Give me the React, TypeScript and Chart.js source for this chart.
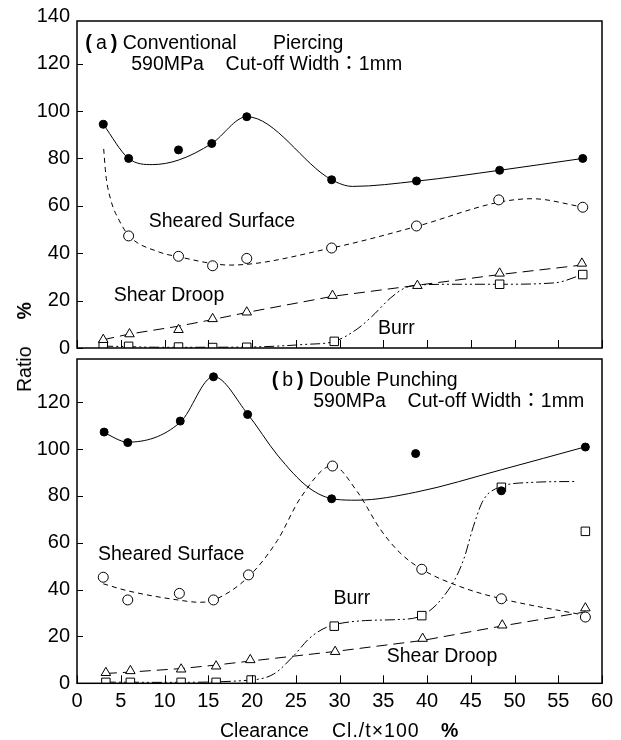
import React, { useEffect, useRef } from 'react';
import { Chart, registerables } from 'chart.js';

Chart.register(...registerables);

// ---------- axis ticks ----------
const X_TICKS = [0, 5, 10, 15, 20, 25, 30, 35, 40, 45, 50, 55, 60];
const Y_TICKS_A = [0, 20, 40, 60, 80, 100, 120, 140];
const Y_TICKS_B = [0, 20, 40, 60, 80, 100, 120];

// ---------- panel (a) Conventional Piercing ----------
const aTotalX = [3.0, 5.9, 11.6, 15.4, 19.4, 29.1, 38.8, 48.3, 57.8];
const aTotalY = [94.4, 80.0, 83.6, 86.3, 97.6, 71.0, 70.5, 75.0, 80.0];
const aTotalCurveX = [3.0, 5.9, 8.6, 11.6, 15.4, 19.4, 29.1, 31.5, 38.8, 48.3, 57.8];
const aTotalCurveY = [94.4, 80.0, 77.4, 79.3, 86.3, 97.6, 71.0, 68.2, 70.4, 75.0, 80.0];

const aShearX = [5.9, 11.6, 15.5, 19.4, 29.1, 38.8, 48.2, 57.8];
const aShearY = [47.3, 38.7, 34.7, 37.8, 42.2, 51.5, 62.5, 59.4];
const aShearCurveX = [3.05, 3.3, 3.9, 4.8, 5.9, 9.3, 11.6, 17.5, 29.1, 38.8, 48.2, 52.0, 57.8];
const aShearCurveY = [84, 73, 62, 54, 47.5, 40.6, 38.5, 35.0, 42.2, 51.3, 61.5, 63.0, 59.5];

const aDroopX = [3.0, 6.0, 11.6, 15.5, 19.4, 29.2, 38.9, 48.3, 57.7];
const aDroopY = [3.5, 5.9, 7.7, 12.3, 15.1, 22.1, 26.3, 31.5, 35.7];
const aDroopLineY = [3.5, 5.9, 9.2, 12.0, 15.0, 21.8, 26.5, 31.0, 35.0];

const aBurrX = [3.0, 5.9, 11.6, 15.5, 19.4, 29.4, 48.3, 57.8];
const aBurrY = [1.1, 0.7, 0.4, 0.2, 0.3, 2.8, 26.9, 31.0];
const aBurrCurveX = [3.0, 10, 19.4, 26, 29.4, 31.9, 33.7, 35.8, 37.4, 39.1, 43.3, 48.3, 54.6, 57.8];
const aBurrCurveY = [0.8, 0.3, 0.4, 1.5, 2.8, 7.7, 13.3, 21.0, 25.2, 26.6, 26.9, 26.9, 27.5, 31.0];

const aLabelText = [
  '(\u2009a\u2009) Conventional      \u2009Piercing',
  '590MPa    Cut-off Width：1mm',
  'Sheared Surface',
  'Shear Droop',
  'Burr',
];
const aLabelX = [0.95, 6.2, 8.2, 4.2, 34.4];
const aLabelY = [128.6, 119.7, 53.3, 21.9, 8.3];

// ---------- panel (b) Double Punching ----------
const bTotalX = [3.1, 5.8, 11.8, 15.6, 19.5, 29.1, 38.7, 48.5, 58.1];
const bTotalY = [107.3, 102.8, 112.0, 130.9, 114.8, 78.8, 98.1, 82.2, 100.9];
const bTotalCurveX = [3.1, 5.8, 11.8, 15.6, 19.5, 22.9, 26.5, 29.5, 32.0, 38.7, 48.5, 58.1];
const bTotalCurveY = [107.0, 103.0, 111.5, 131.0, 115.0, 97.5, 83.5, 78.6, 78.2, 81.6, 91.2, 101.0];

const bShearX = [3.0, 5.8, 11.7, 15.6, 19.6, 29.2, 39.4, 48.5, 58.1];
const bShearY = [45.3, 35.6, 38.4, 35.6, 46.3, 92.8, 48.7, 36.1, 28.3];
const bShearCurveX = [3.0, 5.8, 11.7, 14.0, 15.6, 19.6, 22.9, 25.6, 29.2, 32.0, 34.7, 36.9, 39.4, 44.0, 48.5, 58.1];
const bShearCurveY = [42.5, 39.5, 35.5, 34.6, 35.5, 45.5, 61.0, 79.5, 93.0, 82.0, 65.6, 55.8, 48.7, 41.0, 36.1, 29.0];

const bDroopX = [3.3, 6.1, 11.9, 15.9, 19.8, 29.5, 39.5, 48.6, 58.1];
const bDroopY = [4.5, 5.3, 6.0, 7.3, 10.0, 13.5, 19.1, 24.8, 32.1];
const bDroopLineY = [4.2, 4.8, 6.3, 7.8, 9.5, 13.6, 18.3, 24.5, 30.5];

const bBurrX = [3.3, 6.1, 11.9, 15.9, 19.9, 29.4, 39.4, 48.5, 58.1];
const bBurrY = [0.4, 0.4, 0.4, 0.4, 1.4, 24.4, 28.9, 83.7, 64.9];
const bBurrCurveX = [3.3, 10, 19.9, 22.5, 24.7, 26.5, 28.0, 29.4, 33.0, 36.5, 39.4, 42.8, 44.2, 45.3, 46.4, 47.8, 52.0, 57.1];
const bBurrCurveY = [0.5, 0.4, 1.4, 4.0, 11.5, 19.0, 23.0, 25.0, 26.8, 27.2, 28.9, 41.9, 53.0, 67.0, 78.0, 83.0, 85.8, 86.2];

const bLabelText = [
  '(\u2009b\u2009) Double Punching',
  '590MPa    Cut-off Width：1mm',
  'Sheared Surface',
  'Burr',
  'Shear Droop',
];
const bLabelX = [22.25, 27.0, 2.4, 29.3, 35.4];
const bLabelY = [129.3, 120.2, 54.9, 36.2, 11.5];

// ---------- helpers ----------
const FONT = '"Liberation Sans", Arial, "Noto Sans CJK JP", sans-serif';
const pts = (xs: number[], ys: number[]) => xs.map((x, i) => ({ x, y: ys[i] }));

const markers = (xs: number[], ys: number[], style: string, radius: number, fill: string) => ({
  data: pts(xs, ys),
  showLine: false,
  pointStyle: style,
  pointRadius: radius,
  pointBackgroundColor: fill,
  pointBorderColor: '#000',
  pointBorderWidth: 1,
});

const curve = (xs: number[], ys: number[], dash: number[], monotone = true) => ({
  data: pts(xs, ys),
  showLine: true,
  pointRadius: 0,
  borderColor: '#000',
  borderWidth: 1,
  borderDash: dash,
  cubicInterpolationMode: monotone ? 'monotone' : 'default',
  tension: 0,
  fill: false,
});

const makeFramePlugin = (texts: string[], lx: number[], ly: number[]) => ({
  id: 'frameAndText',
  afterDraw(chart: any) {
    const { ctx, chartArea: a, scales } = chart;
    const xs = scales.x;
    const ys = scales.y;
    ctx.save();
    ctx.strokeStyle = '#000';
    ctx.lineWidth = 1;
    for (const v of X_TICKS) {
      const px = Math.round(xs.getPixelForValue(v)) + 0.5;
      ctx.beginPath();
      ctx.moveTo(px, a.bottom);
      ctx.lineTo(px, a.bottom - 8);
      ctx.stroke();
    }
    for (const t of ys.ticks) {
      const py = ys.getPixelForValue(t.value);
      if (py < a.top || py > a.bottom) continue;
      const y = Math.round(py) + 0.5;
      ctx.beginPath();
      ctx.moveTo(a.left, y);
      ctx.lineTo(a.left + 6, y);
      ctx.stroke();
    }
    ctx.lineWidth = 1.5;
    ctx.strokeRect(a.left, a.top, a.right - a.left, a.bottom - a.top);
    ctx.fillStyle = '#000';
    ctx.textBaseline = 'middle';
    ctx.textAlign = 'left';
    const normal = '19.5px ' + FONT;
    const bold = 'bold 20px ' + FONT;
    texts.forEach((t, i) => {
      let x = xs.getPixelForValue(lx[i]);
      const y = ys.getPixelForValue(ly[i]);
      for (const ch of Array.from(t)) {
        ctx.font = ch === '(' || ch === ')' ? bold : normal;
        ctx.fillText(ch, x, y);
        x += ctx.measureText(ch).width;
      }
    });
    ctx.restore();
  },
});

const baseOptions = (yMax: number, yTicks: number[], showX: boolean, padding: any) => ({
  responsive: false,
  animation: false,
  devicePixelRatio: 1,
  layout: { padding },
  plugins: { legend: { display: false }, tooltip: { enabled: false } },
  scales: {
    x: {
      type: 'linear',
      min: 0,
      max: 60,
      display: showX,
      grid: { display: false, drawTicks: false },
      border: { display: false },
      ticks: {
        stepSize: 5,
        autoSkip: false,
        maxRotation: 0,
        padding: 6,
        color: '#000',
        font: { family: FONT, size: 20 },
      },
      afterBuildTicks: (s: any) => {
        s.ticks = X_TICKS.map((v) => ({ value: v }));
      },
      afterFit: (s: any) => {
        if (showX) s.height = 56.7;
      },
    },
    y: {
      type: 'linear',
      min: 0,
      max: yMax,
      grid: { display: false, drawTicks: false },
      border: { display: false },
      ticks: {
        autoSkip: false,
        padding: 7,
        color: '#000',
        font: { family: FONT, size: 20 },
      },
      afterBuildTicks: (s: any) => {
        s.ticks = yTicks.map((v) => ({ value: v }));
      },
      afterFit: (s: any) => {
        s.width = 77;
      },
    },
  },
});

export default function App() {
  const topRef = useRef<HTMLCanvasElement>(null);
  const botRef = useRef<HTMLCanvasElement>(null);

  useEffect(() => {
    const top = new Chart(topRef.current as HTMLCanvasElement, {
      type: 'scatter',
      data: {
        datasets: [
          markers(aTotalX, aTotalY, 'circle', 4, '#000'),
          markers(aShearX, aShearY, 'circle', 5, '#fff'),
          markers(aDroopX, aDroopY, 'triangle', 5.5, '#fff'),
          markers(aBurrX, aBurrY, 'rect', 6, '#fff'),
          curve(aTotalCurveX, aTotalCurveY, []),
          curve(aShearCurveX, aShearCurveY, [5, 4]),
          curve(aDroopX, aDroopLineY, [11, 6], false),
          curve(aBurrCurveX, aBurrCurveY, [10, 3, 2, 3, 2, 3]),
        ] as any,
      },
      options: baseOptions(138, Y_TICKS_A, false, { left: 0, right: 19, top: 21, bottom: 22 }) as any,
      plugins: [makeFramePlugin(aLabelText, aLabelX, aLabelY)],
    });
    const bot = new Chart(botRef.current as HTMLCanvasElement, {
      type: 'scatter',
      data: {
        datasets: [
          markers(bTotalX, bTotalY, 'circle', 4, '#000'),
          markers(bShearX, bShearY, 'circle', 5, '#fff'),
          markers(bDroopX, bDroopY, 'triangle', 5.5, '#fff'),
          markers(bBurrX, bBurrY, 'rect', 6, '#fff'),
          curve(bTotalCurveX, bTotalCurveY, []),
          curve(bShearCurveX, bShearCurveY, [5, 4]),
          curve(bDroopX, bDroopLineY, [11, 6], false),
          curve(bBurrCurveX, bBurrCurveY, [10, 3, 2, 3, 2, 3]),
        ] as any,
      },
      options: baseOptions(138.5, Y_TICKS_B, true, { left: 0, right: 19, top: 12, bottom: 0 }) as any,
      plugins: [makeFramePlugin(bLabelText, bLabelX, bLabelY)],
    });
    return () => {
      top.destroy();
      bot.destroy();
    };
  }, []);

  const txt: React.CSSProperties = {
    position: 'absolute',
    fontFamily: FONT,
    fontSize: '19.5px',
    lineHeight: '22px',
    whiteSpace: 'pre',
    color: '#000',
  };

  return (
    <div style={{ position: 'absolute', left: 0, top: 0, width: 621, height: 740, background: '#fff', overflow: 'hidden' }}>
      <canvas ref={botRef} width={621} height={400} style={{ position: 'absolute', left: 0, top: 340, width: 621, height: 400 }} />
      <canvas ref={topRef} width={621} height={370} style={{ position: 'absolute', left: 0, top: 0, width: 621, height: 370 }} />
      <span style={{ ...txt, left: 220, top: 719 }}>Clearance</span>
      <span style={{ ...txt, left: 332, top: 719, letterSpacing: '1px' }}>Cl./t×100</span>
      <span style={{ ...txt, left: 441, top: 719, fontWeight: 'bold' }}>%</span>
      <div
        style={{
          ...txt,
          left: 24,
          top: 347,
          transform: 'translate(-50%, -50%) rotate(-90deg)',
        }}
      >
        <span>Ratio</span>
        <span style={{ fontWeight: 'bold', marginLeft: 27 }}>%</span>
      </div>
    </div>
  );
}
